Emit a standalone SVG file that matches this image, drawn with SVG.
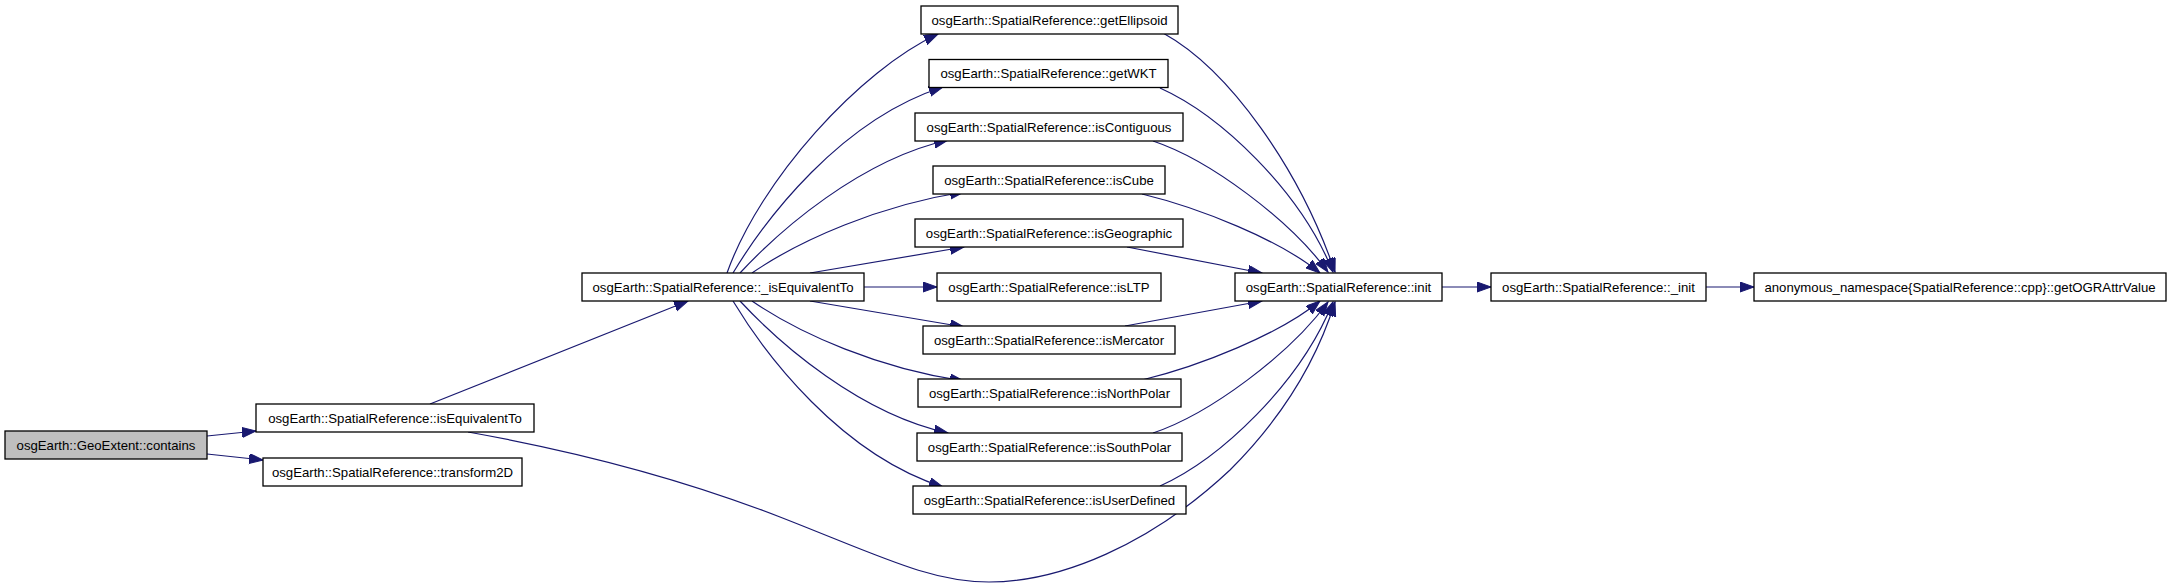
<svg xmlns="http://www.w3.org/2000/svg" width="2171" height="588" viewBox="0 0 2171 588">
<style>
.n rect{fill:#ffffff;stroke:#000000;stroke-width:1.3}
.n.g rect{fill:#bfbfbf}
.n text{font-family:"Liberation Sans",Arial,Helvetica,sans-serif;font-size:13.2px;fill:#000000;text-anchor:middle}
#edges path{fill:none;stroke:#191970;stroke-width:1.2;marker-end:url(#arr)}
</style>
<defs>
<marker id="arr" markerUnits="userSpaceOnUse" markerWidth="16" markerHeight="12" refX="14" refY="5" orient="auto">
<path d="M0,0 L14,5 L0,10 Z" fill="#191970" stroke="#191970" stroke-width="1"/>
</marker>
</defs>
<rect width="2171" height="588" fill="#ffffff"/>
<g id="edges">
<path d="M207,436 L256,431"/>
<path d="M207,454 L263,460"/>
<path d="M430,404 L688,301"/>
<path d="M468,432 C580,452 690,482 780,517 C880,556 930,582 989,582 C1060,582 1150,545 1230,470 C1290,410 1320,350 1335,302"/>
<path d="M727,273 C760,180 860,70 938,34"/>
<path d="M733,273 C765,220 840,120 943,87"/>
<path d="M740,273 C780,230 860,160 948,140"/>
<path d="M752,273 C800,240 880,205 964,192"/>
<path d="M810,273 L964,247"/>
<path d="M864,287 L937,287"/>
<path d="M810,301 L964,327"/>
<path d="M752,301 C800,334 880,369 964,381"/>
<path d="M740,301 C780,344 860,414 948,433"/>
<path d="M733,301 C765,354 840,454 943,487"/>
<path d="M1163,33 C1230,70 1300,170 1335,272"/>
<path d="M1160,88 C1220,115 1300,190 1333,272"/>
<path d="M1153,141 C1210,160 1290,220 1328,272"/>
<path d="M1142,194 C1200,208 1280,240 1320,273"/>
<path d="M1127,247 L1262,273"/>
<path d="M1125,326 L1262,301"/>
<path d="M1142,380 C1200,366 1280,334 1320,301"/>
<path d="M1153,433 C1210,414 1290,354 1328,302"/>
<path d="M1160,486 C1220,459 1300,384 1333,302"/>
<path d="M1442,287 L1491,287"/>
<path d="M1706,287 L1754,287"/>
</g>
<g id="n_contains" class="n g"><rect x="5" y="431" width="202" height="28"/><text x="106" y="449.6">osgEarth::GeoExtent::contains</text></g>
<g id="n_isEquivalentTo" class="n"><rect x="256" y="404" width="278" height="28"/><text x="395" y="422.6">osgEarth::SpatialReference::isEquivalentTo</text></g>
<g id="n_transform2D" class="n"><rect x="263" y="458" width="259" height="28"/><text x="392.5" y="476.6">osgEarth::SpatialReference::transform2D</text></g>
<g id="n__isEquivalentTo" class="n"><rect x="582" y="273" width="282" height="28"/><text x="723" y="291.6">osgEarth::SpatialReference::_isEquivalentTo</text></g>
<g id="n_getEllipsoid" class="n"><rect x="921" y="6" width="257" height="28"/><text x="1049.5" y="24.6">osgEarth::SpatialReference::getEllipsoid</text></g>
<g id="n_getWKT" class="n"><rect x="929" y="59.5" width="239" height="28"/><text x="1048.5" y="78.1">osgEarth::SpatialReference::getWKT</text></g>
<g id="n_isContiguous" class="n"><rect x="915" y="113" width="268" height="28"/><text x="1049" y="131.6">osgEarth::SpatialReference::isContiguous</text></g>
<g id="n_isCube" class="n"><rect x="933" y="166" width="232" height="28"/><text x="1049" y="184.6">osgEarth::SpatialReference::isCube</text></g>
<g id="n_isGeographic" class="n"><rect x="915" y="219" width="268" height="28"/><text x="1049" y="237.6">osgEarth::SpatialReference::isGeographic</text></g>
<g id="n_isLTP" class="n"><rect x="937" y="273" width="224" height="28"/><text x="1049" y="291.6">osgEarth::SpatialReference::isLTP</text></g>
<g id="n_isMercator" class="n"><rect x="923" y="326" width="252" height="28"/><text x="1049" y="344.6">osgEarth::SpatialReference::isMercator</text></g>
<g id="n_isNorthPolar" class="n"><rect x="918" y="379" width="263" height="28"/><text x="1049.5" y="397.6">osgEarth::SpatialReference::isNorthPolar</text></g>
<g id="n_isSouthPolar" class="n"><rect x="917" y="433" width="265" height="28"/><text x="1049.5" y="451.6">osgEarth::SpatialReference::isSouthPolar</text></g>
<g id="n_isUserDefined" class="n"><rect x="913" y="486" width="273" height="28"/><text x="1049.5" y="504.6">osgEarth::SpatialReference::isUserDefined</text></g>
<g id="n_init" class="n"><rect x="1235" y="273" width="207" height="28"/><text x="1338.5" y="291.6">osgEarth::SpatialReference::init</text></g>
<g id="n__init" class="n"><rect x="1491" y="273" width="215" height="28"/><text x="1598.5" y="291.6">osgEarth::SpatialReference::_init</text></g>
<g id="n_getOGRAttrValue" class="n"><rect x="1754" y="273" width="412" height="28"/><text x="1960" y="291.6">anonymous_namespace{SpatialReference::cpp}::getOGRAttrValue</text></g>
</svg>
